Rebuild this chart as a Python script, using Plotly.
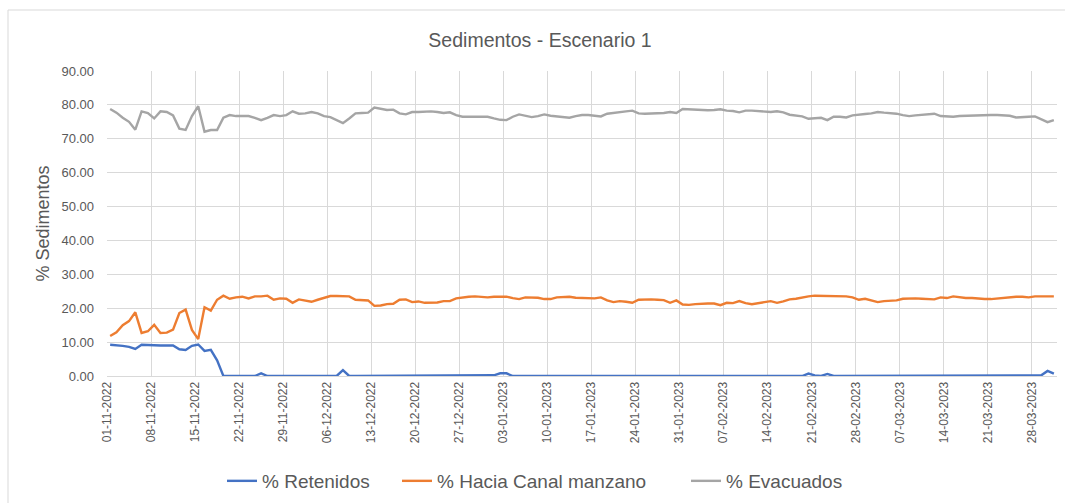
import pandas as pd
import plotly.graph_objects as go

start_date = "2022-11-01"
end_date = "2023-03-31"

retenidos = [
    9.2, 9.1, 8.9, 8.6, 8.0, 9.2, 9.1, 8.9, 9.0, 9.0,
    9.0, 7.9, 7.7, 8.9, 9.3, 7.4, 7.7, 4.6, 0.0, 0.0,
    0.0, 0.0, 0.0, 0.0, 0.8, 0.0, 0.0, 0.0, 0.0, 0.0,
    0.0, 0.0, 0.0, 0.0, 0.0, 0.0, 0.0, 1.7, 0.0, 0.0,
    0.0, 0.0, 0.0, 0.0, 0.0, 0.0, 0.0, 0.0, 0.0, 0.0,
    0.0, 0.0, 0.0, 0.0, 0.0, 0.0, 0.0, 0.0, 0.0, 0.0,
    0.0, 0.2, 0.8, 0.8, 0.0, 0.0, 0.0, 0.0, 0.0, 0.0,
    0.0, 0.0, 0.0, 0.0, 0.0, 0.0, 0.0, 0.0, 0.0, 0.0,
    0.0, 0.0, 0.0, 0.0, 0.0, 0.0, 0.0, 0.0, 0.0, 0.0,
    0.0, 0.0, 0.0, 0.0, 0.0, 0.0, 0.0, 0.0, 0.0, 0.0,
    0.0, 0.0, 0.0, 0.0, 0.0, 0.0, 0.0, 0.0, 0.0, 0.0,
    0.0, 0.7, 0.2, 0.0, 0.6, 0.0, 0.0, 0.0, 0.0, 0.0,
    0.0, 0.0, 0.0, 0.0, 0.0, 0.0, 0.0, 0.0, 0.0, 0.0,
    0.0, 0.0, 0.0, 0.0, 0.0, 0.0, 0.0, 0.0, 0.0, 0.0,
    0.0, 0.0, 0.0, 0.0, 0.0, 0.0, 0.0, 0.0, 0.2, 1.5,
    0.7,
]

hacia_canal = [
    11.8, 12.9, 15.0, 16.2, 18.8, 12.7, 13.2, 15.1, 12.7, 12.8,
    13.7, 18.6, 19.6, 13.6, 10.9, 20.3, 19.3, 22.5, 23.7, 22.8,
    23.2, 23.4, 22.9, 23.5, 23.5, 23.7, 22.5, 22.9, 22.8, 21.6,
    22.6, 22.3, 21.9, 22.5, 23.1, 23.6, 23.6, 23.6, 23.5, 22.5,
    22.3, 22.3, 20.7, 20.8, 21.2, 21.3, 22.5, 22.6, 21.8, 22.0,
    21.6, 21.6, 21.7, 22.1, 22.1, 22.9, 23.2, 23.4, 23.5, 23.4,
    23.2, 23.4, 23.4, 23.4, 23.0, 22.7, 23.2, 23.2, 23.1, 22.7,
    22.7, 23.2, 23.4, 23.4, 23.1, 23.0, 22.9, 22.9, 23.2, 22.3,
    21.8, 22.1, 21.9, 21.6, 22.5, 22.6, 22.6, 22.5, 22.4, 21.6,
    22.3, 21.1, 21.0, 21.2, 21.4, 21.4, 21.4, 20.9, 21.6, 21.5,
    22.1, 21.5, 21.2, 21.4, 21.8, 22.1, 21.6, 22.0, 22.6, 22.8,
    23.2, 23.5, 23.7, 23.7, 23.7, 23.6, 23.6, 23.5, 23.2, 22.5,
    22.8, 22.2, 21.8, 22.1, 22.2, 22.3, 22.8, 22.9, 22.9, 22.8,
    22.6, 22.6, 23.2, 23.0, 23.5, 23.2, 23.0, 23.0, 22.8, 22.7,
    22.7, 22.9, 23.1, 23.3, 23.4, 23.4, 23.2, 23.5, 23.5, 23.5,
    23.5,
]

evacuados = [
    78.8, 77.7, 76.2, 75.0, 72.7, 78.1, 77.6, 76.0, 78.1, 77.9,
    76.9, 73.0, 72.6, 76.7, 79.6, 72.1, 72.6, 72.6, 76.2, 77.0,
    76.7, 76.6, 76.7, 76.2, 75.5, 76.2, 77.0, 76.7, 77.0, 78.1,
    77.4, 77.5, 77.9, 77.5, 76.7, 76.4, 75.4, 74.6, 76.0, 77.5,
    77.6, 77.7, 79.2, 78.9, 78.5, 78.6, 77.5, 77.2, 77.9, 77.9,
    78.1, 78.1, 77.9, 77.6, 77.8, 77.0, 76.5, 76.5, 76.5, 76.5,
    76.5, 76.0, 75.6, 75.5, 76.5, 77.2, 76.8, 76.4, 76.7, 77.2,
    76.8, 76.6, 76.5, 76.2, 76.7, 77.0, 77.0, 76.9, 76.6, 77.4,
    77.7, 77.9, 78.1, 78.3, 77.5, 77.4, 77.4, 77.4, 77.6, 77.9,
    77.6, 78.8, 78.7, 78.6, 78.4, 78.4, 78.5, 78.7, 78.3, 78.2,
    77.8, 78.3, 78.3, 78.1, 77.9, 77.9, 78.1, 77.8, 77.1, 76.8,
    76.6, 75.9, 76.0, 76.2, 75.5, 76.5, 76.5, 76.3, 76.9, 77.2,
    77.3, 77.5, 77.9, 77.7, 77.6, 77.4, 77.0, 76.7, 76.9, 77.0,
    77.2, 77.4, 76.7, 76.6, 76.5, 76.7, 76.8, 76.9, 77.0, 77.0,
    77.0, 77.0, 76.9, 76.8, 76.3, 76.3, 76.5, 76.6, 75.7, 74.9,
    75.5,
]

series_names = ["% Retenidos", "% Hacia Canal manzano", "% Evacuados"]
series_colors = ["#4472C4", "#ED7D31", "#A5A5A5"]

dates = pd.date_range(start_date, end_date, freq="D")
tick_dates = dates[::7]
tick_text = [d.strftime("%d-%m-%Y") for d in tick_dates]
half_day = pd.Timedelta(hours=12)

FONT = "Liberation Sans"
TXT = "#595959"

W, H = 1065, 503
ml, mr, mt, mb = 107, 8, 71, 127
pw, ph = W - ml - mr, H - mt - mb

legend_ids = ["legend", "legend2", "legend3"]
legend_left_px = [222, 397, 686]

fig = go.Figure()
for name, vals, col, lid in zip(series_names, [retenidos, hacia_canal, evacuados],
                                series_colors, legend_ids):
    fig.add_trace(go.Scatter(
        x=dates, y=vals, mode="lines", name=name, legend=lid, showlegend=True,
        line=dict(color=col, width=2.4),
    ))

legend_common = dict(
    orientation="h", xref="container", yref="container",
    xanchor="left", y=(H - 481) / H, yanchor="middle",
    font=dict(size=19, color=TXT, family=FONT),
    itemwidth=30, bgcolor="rgba(0,0,0,0)", borderwidth=0,
)

fig.update_layout(
    width=W, height=H,
    showlegend=True,
    margin=dict(l=ml, r=mr, t=mt, b=mb),
    paper_bgcolor="white", plot_bgcolor="white",
    font=dict(family=FONT, color=TXT),
    title=dict(text="Sedimentos - Escenario 1", x=540 / W, xref="container",
               xanchor="center", y=1 - 40 / H, yref="container", yanchor="middle",
               font=dict(size=19.5, color=TXT, family=FONT)),
    xaxis=dict(
        type="date",
        range=[dates[0] - half_day, dates[-1] + half_day],
        tickmode="array",
        tickvals=[d - half_day for d in tick_dates],
        ticktext=tick_text,
        tickangle=-90,
        tickfont=dict(size=12, color=TXT, family=FONT),
        showgrid=True, gridcolor="#D9D9D9", gridwidth=1,
        showline=True, linecolor="#D9D9D9", linewidth=1,
        ticks="", zeroline=False, automargin=False,
    ),
    yaxis=dict(
        range=[0, 90], tickvals=list(range(0, 91, 10)),
        tickformat=".2f",
        tickfont=dict(size=13, color=TXT, family=FONT),
        showgrid=True, gridcolor="#D9D9D9", gridwidth=1,
        zeroline=False, showline=False, ticks="",
        ticklabelstandoff=12, automargin=False,
        title=dict(text="% Sedimentos", font=dict(size=18, color=TXT, family=FONT), standoff=7),
    ),
    legend=dict(legend_common, x=legend_left_px[0] / W),
    legend2=dict(legend_common, x=legend_left_px[1] / W),
    legend3=dict(legend_common, x=legend_left_px[2] / W),
    shapes=[dict(
        type="rect", xref="paper", yref="paper",
        x0=(8 - ml) / pw, x1=(W + 5 - ml) / pw,
        y0=-(H + 5 - (H - mb)) / ph, y1=((H - mb) - 10) / ph,
        line=dict(color="#D9D9D9", width=1), fillcolor="rgba(0,0,0,0)", layer="below",
    )],
)

fig.write_html(
    "out.html",
    config={"displayModeBar": False},
    post_script="document.body.style.margin='0';document.body.style.overflow='hidden';",
)
